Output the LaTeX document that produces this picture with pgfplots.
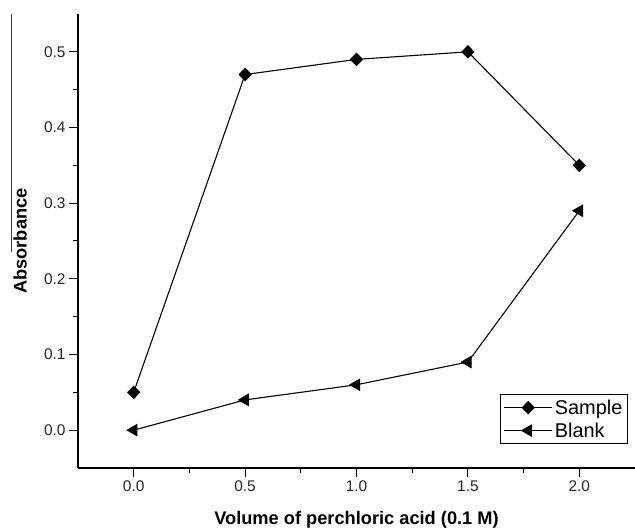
\documentclass[border=0pt]{standalone}
\usepackage{fontspec}
\setmainfont{Liberation Sans}
\usepackage{pgfplots}
\pgfplotsset{compat=1.18}

\begin{document}
\begin{tikzpicture}
\begin{axis}[
    scale only axis,
    width=557bp, height=454bp,
    xmin=-0.25, xmax=2.25,
    ymin=-0.05, ymax=0.55,
    axis x line*=bottom,
    axis y line*=left,
    axis line style={line width=1.3bp},
    xtick={0,0.5,1,1.5,2},
    ytick={0,0.1,0.2,0.3,0.4,0.5},
    minor x tick num=1,
    minor y tick num=1,
    tick align=outside,
    major tick length=9bp,
    minor tick length=5bp,
    tick style={line width=1bp, black},
    /pgf/number format/assume math mode=true,
    /pgf/number format/.cd, fixed, fixed zerofill, precision=1, /pgfplots/.cd,
    tick label style={font=\fontsize{15.5}{18}\selectfont, black!85},
    xlabel={\textbf{Volume of perchloric acid (0.1 M)}},
    ylabel={\textbf{Absorbance}},
    label style={font=\fontsize{18.3}{22}\selectfont},
    xlabel style={at={([yshift=-52bp]rel axis cs:0.5,0)}, anchor=center},
    ylabel style={at={([xshift=-58bp]rel axis cs:0,0.5)}, anchor=center},
    legend style={at={(rel axis cs:0.987,0.053)}, anchor=south east,
        draw=black, line width=0.8bp, font=\fontsize{20}{24}\selectfont,
        inner xsep=3bp, inner ysep=3bp, row sep=3bp, cells={anchor=west}},
    legend image code/.code={
        \draw[mark repeat=2, mark phase=2] plot coordinates {(0bp,0bp) (24bp,0bp) (48bp,0bp)};
    },
    clip=false,
]
\addplot[black, line width=1.1bp, mark=diamond*, mark size=6bp, mark options={solid, fill=black, xscale=1.3}] coordinates {
    (0,0.05) (0.5,0.47) (1.0,0.49) (1.5,0.50) (2.0,0.35)
};
\addlegendentry{Sample}
\addplot[black, line width=1.1bp, mark=triangle*, mark size=6.3bp, mark options={solid, fill=black, rotate=90}] coordinates {
    (0,0.0) (0.5,0.04) (1.0,0.06) (1.5,0.09) (2.0,0.29)
};
\addlegendentry{Blank}
\draw[line width=0.8bp, black!75] ([xshift=-67bp]rel axis cs:0,1) -- ([xshift=-67bp]rel axis cs:0,0.476);
\coordinate (sw) at (rel axis cs:0,0);
\coordinate (ne) at (rel axis cs:1,1);
\end{axis}
\pgfresetboundingbox
\path ([shift={(-78bp,-62bp)}]sw) rectangle ([shift={(0bp,14bp)}]ne);
\end{tikzpicture}
\end{document}
